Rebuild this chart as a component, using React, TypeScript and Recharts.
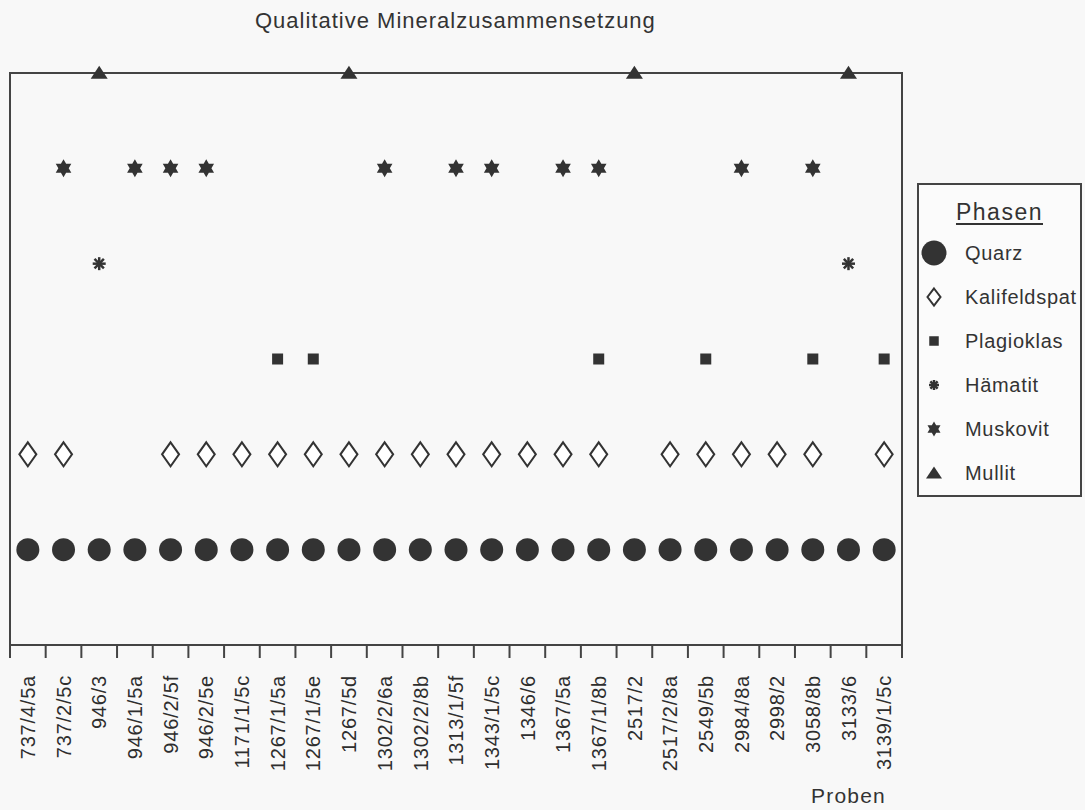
import React from 'react'
import { ComposedChart, Line, XAxis, YAxis, ReferenceArea, Legend } from 'recharts'

const probes = [
  '737/4/5a', '737/2/5c', '946/3', '946/1/5a', '946/2/5f', '946/2/5e', '1171/1/5c',
  '1267/1/5a', '1267/1/5e', '1267/5d', '1302/2/6a', '1302/2/8b', '1313/1/5f',
  '1343/1/5c', '1346/6', '1367/5a', '1367/1/8b', '2517/2', '2517/2/8a', '2549/5b',
  '2984/8a', '2998/2', '3058/8b', '3133/6', '3139/1/5c',
]

// row level of each phase (1 = Quarz ... 6 = Mullit), null = not found
const quarz = [1, 1, 1, 1, 1, 1, 1, 1, 1, 1, 1, 1, 1, 1, 1, 1, 1, 1, 1, 1, 1, 1, 1, 1, 1]
const kalifeldspat = [2, 2, null, null, 2, 2, 2, 2, 2, 2, 2, 2, 2, 2, 2, 2, 2, null, 2, 2, 2, 2, 2, null, 2]
const plagioklas = [null, null, null, null, null, null, null, 3, 3, null, null, null, null, null, null, null, 3, null, null, 3, null, null, 3, null, 3]
const haematit = [null, null, 4, null, null, null, null, null, null, null, null, null, null, null, null, null, null, null, null, null, null, null, null, 4, null]
const muskovit = [null, 5, null, 5, 5, 5, null, null, null, null, 5, null, 5, 5, null, 5, 5, null, null, null, 5, null, 5, null, null]
const mullit = [null, null, 6, null, null, null, null, null, null, 6, null, null, null, null, null, null, null, 6, null, null, null, null, null, 6, null]

const phases = [
  { key: 'quarz', name: 'Quarz' },
  { key: 'kalifeldspat', name: 'Kalifeldspat' },
  { key: 'plagioklas', name: 'Plagioklas' },
  { key: 'haematit', name: 'Hämatit' },
  { key: 'muskovit', name: 'Muskovit' },
  { key: 'mullit', name: 'Mullit' },
]

const chartData = probes.map((probe, i) => ({
  idx: i,
  probe,
  quarz: quarz[i],
  kalifeldspat: kalifeldspat[i],
  plagioklas: plagioklas[i],
  haematit: haematit[i],
  muskovit: muskovit[i],
  mullit: mullit[i],
}))

// tick at every category centre (label) and every boundary (tick mark)
const tickValues = probes.flatMap((_, i) => [i - 0.5, i]).concat(probes.length - 0.5)

const INK = '#333'
const FRAME = '#444'
const FONT = '"Liberation Sans", Arial, Helvetica, sans-serif'

type Size = { circle: number; dw: number; dh: number; sq: number; ast: number; star: number; tw: number; th: number }
const plotSize: Size = { circle: 11.5, dw: 8.5, dh: 12, sq: 11, ast: 6.5, star: 9, tw: 8.5, th: 13 }
const legendSize: Size = { circle: 12.5, dw: 6.5, dh: 8.5, sq: 9.5, ast: 5, star: 7.5, tw: 8, th: 12 }

function Mark({ kind, cx, cy, size }: { kind: string; cx: number; cy: number; size: Size }) {
  switch (kind) {
    case 'quarz':
      return <circle cx={cx} cy={cy} r={size.circle} fill={INK} />
    case 'kalifeldspat':
      return (
        <path
          d={`M${cx},${cy - size.dh} L${cx + size.dw},${cy} L${cx},${cy + size.dh} L${cx - size.dw},${cy} Z`}
          fill="#fff"
          stroke={INK}
          strokeWidth={2}
          strokeLinejoin="miter"
        />
      )
    case 'plagioklas':
      return <rect x={cx - size.sq / 2} y={cy - size.sq / 2} width={size.sq} height={size.sq} fill={INK} />
    case 'haematit': {
      const a = size.ast
      const d = a * 0.72
      return (
        <g stroke={INK} strokeWidth={2.5}>
          <line x1={cx} y1={cy - a} x2={cx} y2={cy + a} />
          <line x1={cx - a} y1={cy} x2={cx + a} y2={cy} />
          <line x1={cx - d} y1={cy - d} x2={cx + d} y2={cy + d} />
          <line x1={cx - d} y1={cy + d} x2={cx + d} y2={cy - d} />
        </g>
      )
    }
    case 'muskovit': {
      const R = size.star
      const r = R / Math.sqrt(3)
      const pts: string[] = []
      for (let k = 0; k < 12; k++) {
        const ang = -Math.PI / 2 + (k * Math.PI) / 6
        const rad = k % 2 === 0 ? R : r
        pts.push(`${cx + rad * Math.cos(ang)},${cy + rad * Math.sin(ang)}`)
      }
      return <polygon points={pts.join(' ')} fill={INK} />
    }
    case 'mullit':
      return (
        <polygon
          points={`${cx},${cy - size.th * 0.55} ${cx + size.tw},${cy + size.th * 0.45} ${cx - size.tw},${cy + size.th * 0.45}`}
          fill={INK}
        />
      )
    default:
      return null
  }
}

const renderDot = (kind: string) => (props: any) => {
  const { cx, cy, value, index } = props
  if (value == null || cy == null || Number.isNaN(cy)) return <g key={`${kind}-${index}`} />
  return (
    <g key={`${kind}-${index}`}>
      <Mark kind={kind} cx={cx} cy={cy} size={plotSize} />
    </g>
  )
}

const ProbeTick = (props: any) => {
  const { x, y, payload } = props
  const v = payload.value
  if (!Number.isInteger(v)) {
    return <line x1={x} y1={y} x2={x} y2={y + 13} stroke={FRAME} strokeWidth={2} />
  }
  return (
    <text
      x={0}
      y={0}
      transform={`translate(${x},${y + 30}) rotate(-90)`}
      textAnchor="end"
      dy="0.36em"
      fill="#2e2e2e"
      style={{ fontFamily: FONT, fontSize: 20, letterSpacing: 0.8 }}
    >
      {probes[v]}
    </text>
  )
}

const PhasenLegend = ({ payload }: any) => {
  const items = phases.filter(p => (payload || []).some((e: any) => e.dataKey === p.key))
  return (
    <div
      style={{
        position: 'relative',
        boxSizing: 'border-box',
        width: 165,
        height: 314,
        border: `2px solid ${FRAME}`,
        background: '#fbfbfb',
        fontFamily: FONT,
        color: INK,
      }}
    >
      <div
        style={{
          position: 'absolute',
          left: 0,
          width: '100%',
          top: 13,
          textAlign: 'center',
          fontSize: 23,
          letterSpacing: 1.5,
          textDecoration: 'underline',
          textUnderlineOffset: 3,
          lineHeight: '28px',
        }}
      >
        Phasen
      </div>
      {items.map((p, i) => (
        <div key={p.key} style={{ position: 'absolute', left: 0, top: 53 + i * 44, height: 30, width: '100%' }}>
          <svg width={34} height={30} style={{ position: 'absolute', left: 0, top: 0 }}>
            <Mark kind={p.key} cx={15} cy={15} size={legendSize} />
          </svg>
          <span style={{ position: 'absolute', left: 46, top: 2, fontSize: 20, letterSpacing: 0.7, lineHeight: '26px' }}>
            {p.name}
          </span>
        </div>
      ))}
    </div>
  )
}

export default function App() {
  return (
    <div
      style={{
        position: 'absolute',
        left: 0,
        top: 0,
        width: 1085,
        height: 810,
        background: '#f8f8f8',
        fontFamily: FONT,
        color: INK,
      }}
    >
      <div style={{ position: 'absolute', left: 255, top: 8, fontSize: 22, letterSpacing: 1, lineHeight: '26px' }}>
        Qualitative Mineralzusammensetzung
      </div>
      <ComposedChart width={1085} height={810} data={chartData} margin={{ top: 73, right: 183, left: 10, bottom: 15 }}>
        <XAxis
          type="number"
          dataKey="idx"
          domain={[-0.5, 24.5]}
          ticks={tickValues}
          interval={0}
          tickLine={false}
          tickSize={0}
          tickMargin={0}
          axisLine={{ stroke: FRAME, strokeWidth: 2 }}
          tick={<ProbeTick />}
          height={150}
        />
        <YAxis type="number" domain={[0, 6]} hide />
        <ReferenceArea
          x1={-0.5}
          x2={24.5}
          y1={0}
          y2={6}
          fill="none"
          stroke={FRAME}
          strokeWidth={2}
          ifOverflow="visible"
        />
        {phases.map(p => (
          <Line
            key={p.key}
            dataKey={p.key}
            name={p.name}
            stroke="none"
            connectNulls={false}
            dot={renderDot(p.key)}
            activeDot={false}
            isAnimationActive={false}
          />
        ))}
        <Legend
          content={<PhasenLegend />}
          layout="horizontal"
          align="center"
          verticalAlign="middle"
          wrapperStyle={{ left: 917, top: 183, width: 165, height: 314 }}
        />
      </ComposedChart>
      <div style={{ position: 'absolute', left: 811, top: 783, fontSize: 21, letterSpacing: 1.2, lineHeight: '26px' }}>
        Proben
      </div>
    </div>
  )
}
